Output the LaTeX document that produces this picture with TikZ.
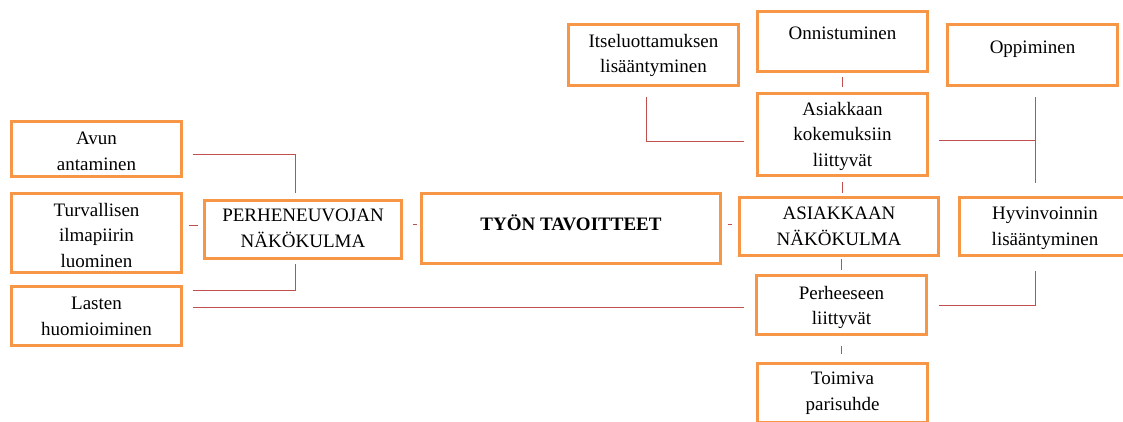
\documentclass[tikz,border=0pt]{standalone}
\usepackage{fontspec}
\setmainfont{Liberation Serif}
\usetikzlibrary{positioning}
\definecolor{boxorange}{HTML}{F79646}
\definecolor{linkred}{HTML}{C0504D}
\tikzset{
  goalbox/.style 2 args={draw=boxorange, line width=2.9pt, fill=white,
    minimum width=#1, minimum height=#2, inner sep=0pt},
  goaltext/.style={align=center, inner sep=0pt,
    font=\fontsize{19}{25.5}\selectfont},
  link/.style={draw=linkred, line width=0.8pt}
}
\begin{document}
\begin{tikzpicture}[x=1pt, y=-1pt]
    \useasboundingbox (0,0) rectangle (1123,421);

    % Left column
    \node[goalbox={170pt}{55pt}] (avun) at (96.5,149) {};
    \node[goaltext, below=12pt of avun.north] (avuntext) {Avun\\antaminen};
    \node[goalbox={170pt}{79pt}] (turv) at (96.5,233) {};
    \node[goaltext, below=11pt of turv.north] (turvtext) {Turvallisen\\ilmapiirin\\luominen};
    \node[goalbox={170pt}{59pt}] (lasten) at (96.5,316) {};
    \node[goaltext, below=12pt of lasten.north] (lastentext) {Lasten\\huomioiminen};

    % Middle row
    \node[goalbox={197pt}{58pt}] (perhe) at (303,229.5) {};
    \node[goaltext, below=10pt of perhe.north] (perhetext) {PERHENEUVOJAN\\NÄKÖKULMA};
    \node[goalbox={299pt}{70pt}] (tyon) at (571,228.5) {};
    \node[goaltext, below=22pt of tyon.north] (tyontext) {\textbf{TYÖN TAVOITTEET}};
    \node[goalbox={199pt}{58pt}] (asiakas) at (839,226.5) {};
    \node[goaltext, below=11pt of asiakas.north] (asiakastext) {ASIAKKAAN\\NÄKÖKULMA};
    \node[goalbox={171pt}{58pt}] (hyvin) at (1045,226.5) {};
    \node[goaltext, below=11pt of hyvin.north] (hyvintext) {Hyvinvoinnin\\lisääntyminen};

    % Top part
    \node[goalbox={170pt}{61pt}] (itse) at (653.5,55) {};
    \node[goaltext, below=11pt of itse.north] (itsetext) {Itseluottamuksen\\lisääntyminen};
    \node[goalbox={170pt}{60pt}] (onni) at (842.5,41.5) {};
    \node[goaltext, below=17pt of onni.north] (onnitext) {Onnistuminen};
    \node[goalbox={170pt}{61pt}] (oppi) at (1032.5,55) {};
    \node[goaltext, below=18pt of oppi.north] (oppitext) {Oppiminen};
    \node[goalbox={170pt}{82pt}] (kokem) at (842.5,134.5) {};
    \node[goaltext, below=10pt of kokem.north] (kokemtext) {Asiakkaan\\kokemuksiin\\liittyvät};

    % Bottom part
    \node[goalbox={170pt}{59pt}] (perheeseen) at (841.5,305) {};
    \node[goaltext, below=12pt of perheeseen.north] (perheeseentext) {Perheeseen\\liittyvät};
    \node[goalbox={170pt}{59pt}] (toimiva) at (842.5,393) {};
    \node[goaltext, below=10pt of toimiva.north] (toimivatext) {Toimiva\\parisuhde};

    % Helper points
    \coordinate (lastenout) at ([xshift=10pt,yshift=9pt]lasten.east);
    \coordinate (oppiout) at ([xshift=2.5pt,yshift=-10pt]oppi.south);
    \coordinate (hyvinin) at ([xshift=-10pt,yshift=13pt]hyvin.north);

    % Connectors on the left
    \draw[link] ([xshift=10pt,yshift=-5pt]avun.east) -| ([xshift=-8pt,yshift=6pt]perhe.north);
    \draw[link] ([xshift=10pt,yshift=-5pt]lasten.north east) -| ([xshift=-8pt,yshift=-4pt]perhe.south);
    \draw[link] ([xshift=6pt,yshift=4pt]perhe.west -| turv.east) -- ([xshift=-5pt,yshift=4pt]perhe.west);
    \draw[link] ([xshift=10pt,yshift=5pt]perhe.east) -- ([xshift=-3pt,yshift=5pt]tyon.west |- perhe.east);
    \draw[link] ([xshift=6pt,yshift=4pt]tyon.east) -- ([xshift=-6pt,yshift=4pt]asiakas.west |- tyon.east);
    \draw[link] (lastenout) -- ([xshift=-11pt]perheeseen.west |- lastenout);

    % Connectors on the right
    \draw[link] ([yshift=-4pt]onni.south) -- ([yshift=5pt]kokem.north);
    \draw[link] ([yshift=-5pt]kokem.south) -- ([yshift=3pt]kokem.south |- asiakas.north);
    \draw[link] ([yshift=-2pt]perheeseen.north |- asiakas.south) -- ([yshift=4pt]perheeseen.north);
    \draw[link] ([yshift=-10pt]perheeseen.south) -- ([yshift=8pt]perheeseen.south |- toimiva.north);
    \draw[link] ([xshift=-7.5pt,yshift=-10pt]itse.south) |- ([xshift=-12pt,yshift=-6.5pt]kokem.west);
    \draw[link] (oppiout) -- (hyvinin);
    \draw[link] ([xshift=10pt,yshift=-5.5pt]kokem.east) -- ([yshift=-5.5pt]kokem.east -| oppiout);
    \draw[link] ([xshift=11pt]perheeseen.east) -| ([xshift=-10pt,yshift=-14pt]hyvin.south);
\end{tikzpicture}
\end{document}
